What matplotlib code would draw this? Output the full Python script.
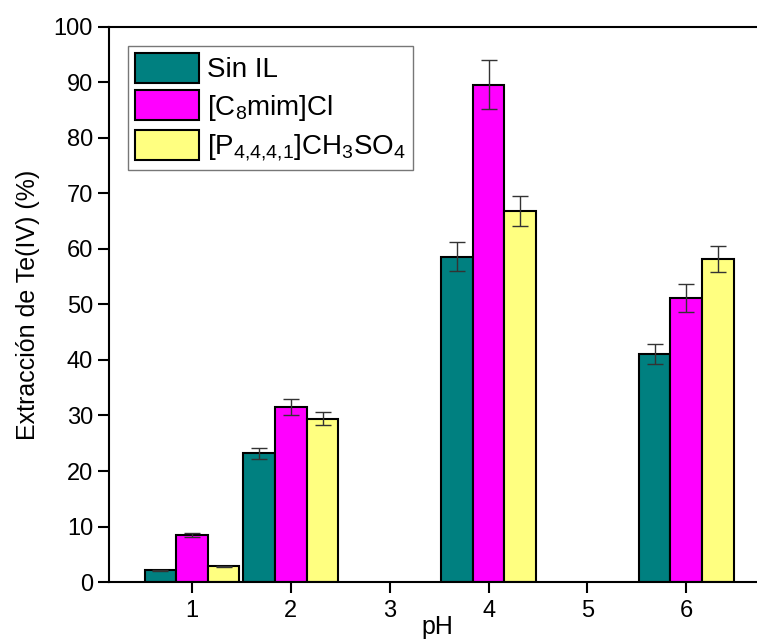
import numpy as np
import matplotlib
matplotlib.use('Agg')
import matplotlib.pyplot as plt

plt.rcParams['font.family'] = ['Liberation Sans', 'DejaVu Sans']
plt.rcParams['mathtext.default'] = 'regular'

# data
ph = [1, 2, 4, 6]
sin_il = [2.1, 23.2, 58.6, 41.0]
sin_il_err = [0.1, 1.0, 2.6, 1.8]
c8mim = [8.5, 31.5, 89.6, 51.2]
c8mim_err = [0.4, 1.5, 4.4, 2.5]
p4441 = [2.8, 29.4, 66.9, 58.2]
p4441_err = [0.1, 1.2, 2.7, 2.4]
labels = ['Sin IL', '[C$_8$mim]Cl', '[P$_{4{,}4{,}4{,}1}$]CH$_3$SO$_4$']
colors = ['#008080', '#ff00ff', '#ffff80']

fig = plt.figure(figsize=(7.57, 6.41), dpi=100)
ax = fig.add_axes([0.144, 0.092, 0.867, 0.866])

x = np.array(ph, dtype=float)
w = 0.32
series = [(sin_il, sin_il_err), (c8mim, c8mim_err), (p4441, p4441_err)]
for i, (vals, errs) in enumerate(series):
    ax.bar(x + (i - 1) * w, vals, w, color=colors[i], edgecolor='black',
           linewidth=1.5, label=labels[i], zorder=2)
    ax.errorbar(x + (i - 1) * w, vals, yerr=errs, fmt='none', ecolor='#333333',
                elinewidth=1.0, capsize=6, capthick=1.0, zorder=3)

ax.set_xlim(0.16, 6.8)
ax.set_ylim(0, 100)
ax.set_xticks([1, 2, 3, 4, 5, 6])
ax.set_yticks(range(0, 101, 10))
ax.tick_params(direction='out', length=8, width=1.5, labelsize=17, top=False, right=False)
ax.tick_params(axis='x', pad=5)
for s in ax.spines.values():
    s.set_linewidth(1.5)

ax.set_ylabel('Extracción de Te(IV) (%)', fontsize=18, labelpad=10)
ax.set_xlabel('pH', fontsize=18, labelpad=-5)

leg = ax.legend(loc='upper left', bbox_to_anchor=(0.029, 0.966), borderaxespad=0,
                fontsize=20, fancybox=False, framealpha=1, edgecolor='#777777',
                handlelength=2.3, handleheight=1.3, labelspacing=0.25,
                handletextpad=0.3, borderpad=0.25)
leg.get_frame().set_linewidth(1.0)

fig.savefig('out.png', dpi=100)
